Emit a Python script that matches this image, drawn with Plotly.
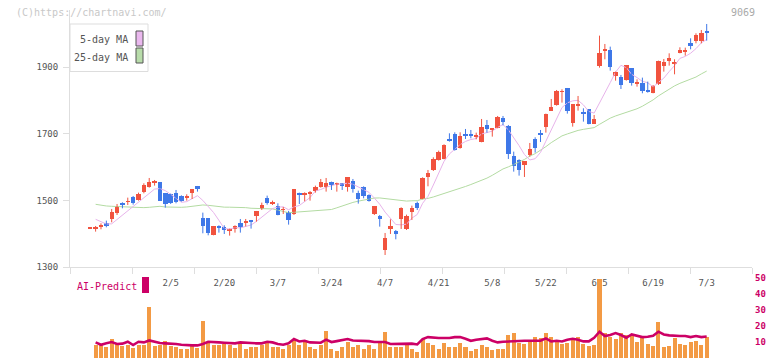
import plotly.graph_objects as go
import pandas as pd

# ---------------- data ----------------
opens = [1417,1417,1423,1432,1445,1462,1492,1496,1510,1502,1527,1542,1554,1555,1522,1520,1522,1514,1509,1524,
         1544,1447,1447,1398,1424,1420,1410,1416,1433,1432,1442,1454,1476,1507,1490,1485,1472,1467,1459,1524,
         1516,1520,1530,1542,1540,1557,1549,1552,1542,1559,1524,1540,1517,1460,1455,1352,1415,1409,1445,1415,
         1467,1494,1506,1572,1592,1623,1625,1684,1700,1658,1700,1700,1693,1677,1727,1712,1719,1749,1725,1634,
         1622,1607,1637,1684,1701,1722,1770,1786,1826,1838,1734,1785,1763,1774,1730,1905,1950,1952,1875,1872,
         1862,1897,1850,1854,1830,1822,1850,1905,1920,1909,1942,1948,1972,1980,1980,2006]
highs = [1418,1424,1432,1440,1475,1490,1495,1509,1514,1524,1552,1568,1562,1556,1523,1521,1532,1516,1519,1535,
         1544,1464,1447,1424,1426,1426,1416,1426,1445,1445,1442,1469,1494,1515,1500,1492,1481,1469,1535,1524,
         1525,1529,1545,1565,1568,1557,1554,1552,1570,1565,1530,1543,1519,1484,1457,1403,1444,1412,1480,1458,
         1485,1497,1570,1592,1630,1650,1669,1702,1705,1705,1715,1712,1704,1745,1742,1717,1754,1754,1727,1647,
         1624,1619,1673,1690,1712,1761,1805,1832,1834,1838,1790,1814,1777,1774,1757,1995,1970,1962,1887,1877,
         1907,1897,1864,1869,1857,1847,1920,1925,1942,1924,1960,1959,1987,2002,2012,2030]
lows = [1416,1407,1414,1420,1435,1457,1477,1487,1488,1500,1522,1539,1545,1499,1479,1490,1492,1497,1500,1505,
        1527,1402,1396,1396,1404,1400,1395,1404,1404,1423,1416,1437,1472,1488,1487,1456,1460,1428,1457,1490,
        1498,1500,1524,1539,1527,1532,1527,1532,1527,1524,1491,1507,1497,1457,1422,1337,1400,1384,1415,1412,
        1442,1472,1504,1543,1589,1620,1624,1677,1650,1656,1685,1687,1684,1675,1704,1692,1717,1726,1625,1587,
        1575,1571,1632,1644,1676,1704,1770,1785,1794,1761,1722,1770,1737,1729,1730,1899,1924,1890,1860,1835,
        1860,1845,1842,1822,1824,1822,1847,1887,1905,1879,1942,1935,1954,1972,1972,1980]
closes = [1417,1418,1425,1425,1467,1482,1486,1497,1492,1520,1547,1555,1559,1500,1489,1492,1495,1499,1510,1535,
          1535,1424,1404,1424,1418,1412,1416,1424,1421,1438,1436,1469,1487,1492,1497,1458,1473,1443,1535,1518,
          1523,1527,1542,1557,1552,1546,1550,1544,1570,1536,1506,1513,1499,1484,1444,1388,1425,1401,1479,1454,
          1479,1479,1569,1583,1624,1647,1667,1680,1652,1694,1695,1696,1694,1721,1715,1717,1752,1737,1640,1604,
          1592,1619,1655,1659,1699,1760,1781,1829,1827,1770,1790,1789,1760,1729,1745,1942,1952,1902,1887,1847,
          1907,1852,1853,1830,1827,1844,1920,1917,1928,1917,1952,1949,1965,1997,2004,2003]
volume = [None,7.7,8.3,6.5,11.5,8.3,7.3,7.7,5.8,7.7,7.7,32.0,7.1,7.7,10.4,7.3,6.5,5.6,5.2,7.3,
          5.8,22.9,9.0,7.7,7.7,8.5,7.7,5.8,8.5,5.2,7.0,6.5,7.7,9.0,6.5,6.9,5.2,7.7,10.8,7.7,
          9.8,6.5,5.6,7.7,16.5,5.2,4.0,6.9,9.8,6.5,8.1,5.6,7.7,5.6,10.4,16.0,6.9,6.9,6.9,7.7,
          5.2,3.3,11.5,9.0,7.7,5.6,9.0,6.9,6.9,9.0,6.9,4.0,5.2,7.7,6.9,4.6,5.6,5.6,14.0,15.8,
          9.0,8.3,10.4,13.1,12.1,15.8,12.7,9.8,8.3,9.0,10.8,13.1,8.3,7.1,7.7,49.6,15.8,13.1,11.5,15.8,
          14.4,13.8,9.8,12.7,8.3,7.1,22.7,6.5,7.1,12.1,8.3,7.7,9.8,10.4,7.7,13.1]
vol_line = [None,9.8,8.3,9.2,10.0,8.8,9.0,10.2,8.1,10.2,9.8,11.0,10.0,9.4,9.2,9.2,8.8,8.3,7.9,7.9,
            7.9,8.8,10.2,9.8,9.8,9.6,9.4,9.2,9.8,9.8,9.4,9.2,9.2,10.2,9.8,8.8,8.3,9.2,11.9,10.4,
            10.8,9.8,9.6,9.6,11.5,10.0,10.6,11.2,11.9,11.0,11.0,10.8,10.6,10.0,9.8,10.0,8.8,8.8,9.2,9.2,
            9.0,8.5,11.9,13.1,12.7,12.5,12.5,12.5,13.1,13.1,12.1,10.8,11.5,12.1,12.3,10.8,9.8,10.2,10.4,10.8,
            10.8,10.8,10.8,10.8,10.8,12.3,10.4,10.8,10.4,11.5,12.1,11.5,10.4,10.4,12.7,16.5,13.8,14.4,15.6,14.4,
            12.7,14.8,14.0,13.1,13.3,14.0,16.5,14.8,14.2,13.8,13.8,13.8,13.1,13.8,13.1,13.5]
ma5_head = [None, 1444, 1438, 1430]
ma25_head = [None, 1489, 1486, 1484, 1483, 1482, 1481, 1480, 1479, 1478, 1479, 1480,
             1482, 1483, 1481, 1480, 1480, 1480, 1481, 1483, 1486, 1487, 1486, 1484]
tick_labels = ["2/5", "2/20", "3/7", "3/24", "4/7", "4/21", "5/8", "5/22", "6/5", "6/19", "7/3"]
tick_index = [15, 25, 35, 45, 55, 65, 75, 85, 95, 105, 115]

# ---------------- derived ----------------
n = len(closes)
idx = list(range(n))
cs = pd.Series(closes, dtype=float)
ma5 = cs.rolling(5).mean().tolist()
ma25 = cs.rolling(25).mean().tolist()
ma5[:len(ma5_head)] = ma5_head
ma25[:len(ma25_head)] = ma25_head

RED = "#f1533f"
BLUE = "#3f78e8"
MONO = "DejaVu Sans Mono"

up = [c >= o for o, c in zip(opens, closes)]
body_base = [min(o, c) for o, c in zip(opens, closes)]
body_h = [max(abs(c - o), 2.5) for o, c in zip(opens, closes)]
body_col = [RED if u else BLUE for u in up]

def wick_xy(flag):
    xs, ys = [], []
    for i in idx:
        if up[i] == flag:
            xs += [i, i, None]
            ys += [lows[i], highs[i], None]
    return xs, ys

fig = go.Figure()

# moving averages
fig.add_trace(go.Scatter(x=idx, y=ma25, mode="lines", line=dict(color="#b3dba2", width=1),
                         hoverinfo="skip", showlegend=False, xaxis="x", yaxis="y"))
fig.add_trace(go.Scatter(x=idx, y=ma5, mode="lines", line=dict(color="#e7b3ea", width=1),
                         hoverinfo="skip", showlegend=False, xaxis="x", yaxis="y"))
# wicks
for flag, col in [(True, RED), (False, BLUE)]:
    wx, wy = wick_xy(flag)
    fig.add_trace(go.Scatter(x=wx, y=wy, mode="lines", line=dict(color=col, width=1),
                             hoverinfo="skip", showlegend=False, xaxis="x", yaxis="y"))
# bodies
fig.add_trace(go.Bar(x=idx, y=body_h, base=body_base, width=0.82,
                     marker=dict(color=body_col, line=dict(width=0)),
                     showlegend=False, xaxis="x", yaxis="y"))

# volume
fig.add_trace(go.Bar(x=idx, y=volume, width=0.75, marker=dict(color="#f39a44", line=dict(width=0)),
                     showlegend=False, xaxis="x2", yaxis="y2"))
fig.add_trace(go.Scatter(x=idx, y=vol_line, mode="lines", line=dict(color="#cc0066", width=2.6),
                         hoverinfo="skip", showlegend=False, xaxis="x2", yaxis="y2"))

# ---------------- layout (pixel geometry) ----------------
W, H = 772, 361
L, R, T, B = 70, 20, 10, 3
pw, ph = W - L - R, H - T - B
def px(x):
    return (x - L) / pw
def py(y):
    return (H - B - y) / ph

x0 = -3.78
x1 = 123.45
divs = [x0 + (x1 - x0) * k / 11 for k in range(12)]
main_bottom_px = 267.3
ymax = 1300 + (main_bottom_px - T) * 3

axis_col = "#dedede"
fig.update_layout(
    width=W, height=H, margin=dict(l=L, r=R, t=T, b=B, autoexpand=False),
    paper_bgcolor="white", plot_bgcolor="white", bargap=0,
    xaxis=dict(domain=[0, 1], anchor="y", range=[x0, x1], showgrid=False, zeroline=False,
               automargin=False,
               showline=True, linecolor=axis_col, linewidth=1,
               tickmode="array", tickvals=tick_index, ticktext=tick_labels, ticks="",
               ticklabelstandoff=7, tickfont=dict(family=MONO, size=9, color="#555555"),
               minor=dict(tickmode="array", tickvals=divs, ticks="outside", ticklen=6,
                          tickcolor=axis_col, showgrid=False)),
    yaxis=dict(domain=[py(main_bottom_px), 1], anchor="x", range=[1300, ymax], showgrid=False,
               automargin=False,
               zeroline=False, showline=True, linecolor=axis_col, linewidth=1,
               tickmode="array", tickvals=[1300, 1500, 1700, 1900], ticks="outside", ticklen=6,
               tickcolor=axis_col, tickfont=dict(family=MONO, size=9, color="#555555"),
               ticklabelstandoff=3),
    xaxis2=dict(domain=[0, 1], anchor="y2", range=[x0, x1], visible=False, automargin=False),
    yaxis2=dict(domain=[0, py(278.3)], anchor="x2", side="right", range=[0, 50], showgrid=False,
                automargin=False,
                zeroline=False, showline=False, ticks="", tickmode="array",
                tickvals=[0, 10, 20, 30, 40, 50],
                tickfont=dict(family=MONO, size=9, color="#cc0066", weight="bold"),
                ticklabelstandoff=2),
)

shapes = [
    dict(type="rect", xref="paper", yref="paper", x0=px(70), x1=px(148), y0=py(71.5), y1=py(24),
         line=dict(color="#dddddd", width=1), fillcolor="white", layer="above"),
    dict(type="rect", xref="paper", yref="paper", x0=px(136), x1=px(143), y0=py(46), y1=py(31),
         line=dict(color="#555555", width=1), fillcolor="#eab8ee", layer="above"),
    dict(type="rect", xref="paper", yref="paper", x0=px(136), x1=px(143), y0=py(63), y1=py(48),
         line=dict(color="#555555", width=1), fillcolor="#b8dcaa", layer="above"),
    dict(type="rect", xref="paper", yref="paper", x0=px(142), x1=px(149), y0=py(293), y1=py(277),
         line=dict(width=0), fillcolor="#cc0066", layer="above"),
]
annotations = [
    dict(text="(C)https://chartnavi.com/", xref="paper", yref="paper", x=px(14), y=py(12),
         xanchor="left", yanchor="middle", showarrow=False,
         font=dict(family=MONO, size=10, color="#c8c8c8")),
    dict(text="9069", xref="paper", yref="paper", x=px(757), y=py(12),
         xanchor="right", yanchor="middle", showarrow=False,
         font=dict(family=MONO, size=10, color="#aaaaaa")),
    dict(text="5-day MA", xref="paper", yref="paper", x=px(130), y=py(40),
         xanchor="right", yanchor="middle", showarrow=False,
         font=dict(family=MONO, size=10, color="#555555")),
    dict(text="25-day MA", xref="paper", yref="paper", x=px(130), y=py(57),
         xanchor="right", yanchor="middle", showarrow=False,
         font=dict(family=MONO, size=10, color="#555555")),
    dict(text="AI-Predict", xref="paper", yref="paper", x=px(75), y=py(286),
         xanchor="left", yanchor="middle", showarrow=False,
         font=dict(family=MONO, size=10, color="#cc0066")),
]
fig.update_layout(shapes=shapes, annotations=annotations)

fig.write_html("out.html", config={"displayModeBar": False},
               post_script="document.body.style.margin='0';")
